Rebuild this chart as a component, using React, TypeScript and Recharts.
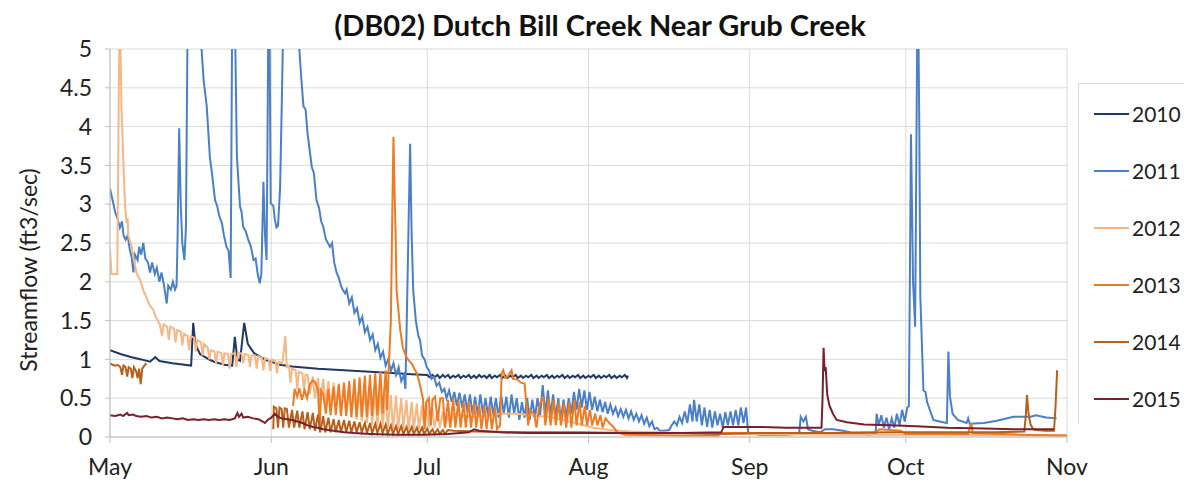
import React from 'react';
import { LineChart, Line, XAxis, YAxis, CartesianGrid } from 'recharts';

// x = days since May 1
const monthTicks = [0, 31, 61, 92, 123, 153, 184];
const monthLabels = ['May', 'Jun', 'Jul', 'Aug', 'Sep', 'Oct', 'Nov'];
const yTicks = [0, 0.5, 1, 1.5, 2, 2.5, 3, 3.5, 4, 4.5, 5];
const years = ['2010', '2011', '2012', '2013', '2014', '2015'];
const colors = ['#1f3864', '#4a7fc9', '#f6b784', '#ee7a22', '#b85f1a', '#7a1f2c'];

type P = [number, number | null];

const s2010: P[] = [
  [0, 1.12], [2, 1.07], [4, 1.03], [6, 1.0], [7.7, 0.97], [8.7, 1.03], [9.5, 0.98], [12, 0.95], [15.6, 0.92],
  [16, 1.47], [16.4, 1.2], [17.3, 1.07], [19, 1.0], [20, 0.97], [22, 0.93], [23.5, 0.92], [24, 1.29], [24.5, 1.0],
  [25, 0.98], [25.8, 1.47], [26.5, 1.2], [27.7, 1.08], [30, 0.99], [32.7, 0.93], [35, 0.91], [40, 0.88], [45, 0.86],
  [50, 0.84], [55, 0.82], [58, 0.81],
  [61, 0.8], [61.4, 0.77], [62, 0.8], [62.4, 0.77], [63, 0.8], [63.4, 0.76], [64, 0.8], [64.4, 0.77], [65, 0.8],
  [65.4, 0.76], [66, 0.79], [66.4, 0.77], [67, 0.8], [67.4, 0.76], [68, 0.79], [68.4, 0.77], [69, 0.8], [69.4, 0.76],
  [70, 0.79], [70.4, 0.76], [71, 0.8], [71.4, 0.77], [72, 0.79], [72.4, 0.76], [73, 0.8], [73.4, 0.76], [74, 0.79],
  [74.4, 0.77], [75, 0.8], [75.4, 0.76], [76, 0.79], [76.4, 0.76], [77, 0.79], [77.4, 0.77], [78, 0.8], [78.4, 0.76],
  [79, 0.79], [79.4, 0.76], [80, 0.79], [80.4, 0.77], [81, 0.8], [81.4, 0.76], [82, 0.79], [82.4, 0.76], [83, 0.79],
  [83.4, 0.77], [84, 0.8], [84.4, 0.76], [85, 0.79], [85.4, 0.76], [86, 0.79], [86.4, 0.77], [87, 0.8], [87.4, 0.76],
  [88, 0.79], [88.4, 0.76], [89, 0.79], [89.4, 0.77], [90, 0.8], [90.4, 0.76], [91, 0.79], [91.4, 0.76], [92, 0.79],
  [92.4, 0.77], [93, 0.8], [93.4, 0.76], [94, 0.79], [94.4, 0.76], [95, 0.79], [95.4, 0.77], [96, 0.8], [96.4, 0.76],
  [97, 0.79], [97.4, 0.76], [98, 0.79], [98.4, 0.77], [99, 0.8], [99.4, 0.76], [99.6, 0.79],
];

const s2011: P[] = [
  [0, 3.2], [0.5, 3.05], [1, 2.9], [1.5, 2.8], [1.9, 2.7], [2.3, 2.78], [2.6, 2.6], [3, 2.54], [3.4, 2.6], [3.8, 2.42],
  [4.2, 2.3], [4.5, 2.12], [4.8, 2.35], [5.3, 2.28], [5.6, 2.45], [6.0, 2.35], [6.4, 2.5], [6.8, 2.3], [7.3, 2.25],
  [7.7, 2.12], [8.1, 2.25], [8.6, 2.1], [9.0, 2.18], [9.5, 2.0], [9.9, 2.12], [10.4, 1.95], [10.9, 1.72], [11.2, 1.95],
  [11.7, 1.9], [12.1, 2.0], [12.5, 1.9], [12.8, 1.95], [13.0, 2.6], [13.3, 3.98], [13.6, 3.0], [13.9, 2.5], [14.3, 2.28],
  [14.6, 2.7], [14.9, 5.2], [15.5, 7], [16.5, 7], [17.3, 6], [17.6, 5.0], [18.0, 4.6], [18.6, 4.26], [19.2, 3.61],
  [19.6, 3.4], [20.2, 3.05], [20.6, 2.98], [21.0, 2.85], [21.5, 2.76], [21.9, 2.6], [22.4, 2.45], [22.8, 2.4],
  [23.2, 2.05], [23.5, 5.5], [23.8, 6], [24.1, 5], [24.4, 3.61], [25, 2.97], [25.3, 2.9], [25.6, 2.71], [26.1, 2.65],
  [26.6, 2.54], [27.1, 2.45], [27.6, 2.28], [28.0, 2.3], [28.4, 2.1], [28.8, 1.98], [29.1, 2.1], [29.5, 3.29],
  [29.8, 2.6], [30.1, 2.28], [30.3, 4], [30.5, 6], [30.7, 5], [30.9, 3.01], [31.4, 2.98], [31.7, 2.8], [32.0, 2.7],
  [32.3, 2.72], [32.7, 3.2], [33.0, 4.2], [33.3, 5.3], [34, 7.5], [35, 7], [35.8, 6], [36.4, 5.0], [36.8, 4.6],
  [37.2, 4.26], [37.6, 4.22], [38.0, 3.9], [38.8, 3.48], [39.2, 3.4], [39.7, 3.05], [40.2, 2.95], [40.6, 2.78],
  [41.0, 2.71], [41.5, 2.55], [42.3, 2.45], [42.7, 2.5], [43.1, 2.25], [43.6, 2.11], [44.0, 2.05], [44.4, 1.95],
  [44.8, 1.89], [45.2, 1.85], [45.5, 1.9], [46, 1.72], [46.5, 1.8], [47, 1.6], [47.5, 1.66], [48, 1.47], [48.5, 1.55],
  [49, 1.35], [49.5, 1.42], [50, 1.25], [50.5, 1.32], [51, 1.12], [51.5, 1.2], [52, 1.02], [52.5, 1.1], [53, 0.92],
  [53.5, 1.0], [54, 0.85], [54.5, 0.95], [55, 0.8], [55.5, 0.9], [56, 0.72], [56.5, 0.8], [56.8, 0.62], [57.2, 2.0],
  [57.7, 3.78], [58.0, 2.6], [58.3, 1.89], [58.8, 1.5], [59.3, 1.3], [59.6, 1.25], [60.0, 1.05], [60.5, 1.0],
  [60.9, 0.9], [61.4, 0.85], [61.8, 0.75], [62.3, 0.78], [62.8, 0.66], [63.3, 0.7], [63.8, 0.58], [64.3, 0.62],
  [64.7, 0.5], [65.2, 0.6], [65.7, 0.45], [66.2, 0.58], [66.7, 0.4], [67.2, 0.57], [67.7, 0.38], [68.2, 0.55],
  [68.7, 0.33], [69.2, 0.55], [69.7, 0.3], [70.2, 0.52], [70.7, 0.28], [71.2, 0.55], [71.7, 0.3], [72.2, 0.5],
  [72.7, 0.27], [73.2, 0.52], [73.7, 0.28], [74.2, 0.5], [74.7, 0.25], [75.2, 0.55], [75.7, 0.3], [76.2, 0.52],
  [76.7, 0.25], [77.2, 0.55], [77.7, 0.3], [78.2, 0.5], [78.7, 0.22], [79.2, 0.45], [79.7, 0.25], [80.2, 0.5],
  [80.7, 0.22], [81.2, 0.48], [81.7, 0.25], [82.2, 0.5], [82.7, 0.28], [83.2, 0.67], [83.7, 0.3], [84.2, 0.6],
  [84.7, 0.28], [85.2, 0.55], [85.7, 0.25], [86.2, 0.5], [86.7, 0.22], [87.2, 0.48], [87.7, 0.25], [88.2, 0.5],
  [88.7, 0.3], [89.2, 0.58], [89.7, 0.35], [90.2, 0.62], [90.7, 0.38], [91.2, 0.6], [91.7, 0.35], [92.2, 0.58],
  [92.7, 0.35], [93.2, 0.52], [93.7, 0.33], [94.2, 0.48], [94.7, 0.32], [95.2, 0.45], [95.7, 0.3], [96.2, 0.42],
  [96.7, 0.3], [97.2, 0.38], [97.7, 0.27], [98.2, 0.36], [98.7, 0.26], [99.2, 0.35], [99.7, 0.24], [100.2, 0.33],
  [100.7, 0.22], [101.2, 0.3], [101.7, 0.2], [102.2, 0.28], [102.7, 0.17], [103.2, 0.25], [103.7, 0.14], [104.2, 0.2],
  [104.7, 0.1], [105.2, 0.12], [105.7, 0.08], [106.5, 0.08], [107.5, 0.09], [108, 0.15], [108.5, 0.2], [109, 0.15],
  [109.5, 0.26], [110, 0.18], [110.5, 0.33], [111, 0.18], [111.5, 0.42], [112, 0.2], [112.3, 0.48], [112.8, 0.2],
  [113.3, 0.42], [113.8, 0.15], [114.3, 0.38], [114.8, 0.13], [115.3, 0.35], [115.8, 0.12], [116.3, 0.33],
  [116.8, 0.15], [117.3, 0.3], [117.8, 0.12], [118.3, 0.32], [118.8, 0.15], [119.3, 0.33], [119.8, 0.15],
  [120.3, 0.35], [120.8, 0.15], [121.3, 0.38], [121.8, 0.18], [122.3, 0.38], [122.7, 0.05], [125, 0.03], [130, 0.03],
  [132.5, 0.04], [132.8, 0.26], [133.3, 0.2], [133.8, 0.26], [134.2, 0.1], [135, 0.08], [136.5, 0.06], [137.5, 0.1],
  [139, 0.1], [141, 0.08], [143, 0.05], [146, 0.03], [147.2, 0.05], [147.4, 0.3], [147.8, 0.15], [148.3, 0.28],
  [148.8, 0.12], [149.3, 0.25], [149.8, 0.1], [150.3, 0.24], [150.8, 0.12], [151.3, 0.3], [151.8, 0.15], [152.3, 0.35],
  [152.8, 0.2], [153.3, 0.38], [153.6, 0.4], [154, 3.9], [154.4, 2.0], [154.8, 1.42], [155.2, 5.2], [155.4, 5.5],
  [155.6, 4], [155.8, 1.81], [156.4, 0.6], [156.8, 0.58], [157.1, 0.45], [158.3, 0.22], [159.5, 0.2], [160.9, 0.18],
  [161.2, 1.1], [161.5, 0.52], [162, 0.3], [163, 0.22], [164.7, 0.18], [165, 0.24], [165.3, 0.17], [168, 0.18],
  [170.5, 0.21], [173.7, 0.26], [177, 0.26], [178, 0.28], [180, 0.25], [182, 0.24],
];

const s2012: P[] = [
  [0, 2.42], [0.3, 2.1], [1.4, 2.1], [1.7, 4.5], [1.9, 5.6], [2.2, 4.26], [2.6, 3.5], [2.9, 2.97], [3.2, 2.76],
  [3.4, 2.82], [3.5, 2.6], [4.2, 2.45], [4.5, 2.32], [5.1, 2.11], [5.8, 2.02], [6.4, 1.89], [7, 1.8], [7.6, 1.7],
  [8.3, 1.64], [8.8, 1.55], [9.6, 1.45], [10, 1.3], [10.3, 1.45], [11, 1.42], [11.3, 1.25], [11.6, 1.42], [12.3, 1.4],
  [12.6, 1.22], [12.9, 1.38], [13.6, 1.36], [13.9, 1.18], [14.2, 1.33], [14.9, 1.3], [15.2, 1.12], [15.5, 1.3],
  [16.2, 1.28], [16.5, 1.1], [16.8, 1.25], [17.5, 1.22], [17.8, 1.05], [18.1, 1.2], [18.8, 1.15], [19.1, 1.0],
  [19.4, 1.12], [20.1, 1.1], [20.4, 0.95], [20.7, 1.1], [21.4, 1.08], [21.7, 0.92], [22, 1.08], [22.7, 1.07],
  [23, 0.88], [23.3, 1.07], [24, 1.08], [24.3, 0.9], [24.6, 1.08], [25.3, 1.08], [25.6, 0.95], [25.9, 1.07],
  [26.6, 1.06], [26.9, 0.9], [27.2, 1.05], [27.9, 1.05], [28.2, 0.88], [28.5, 1.04], [29.2, 1.02], [29.5, 0.86],
  [29.8, 1.02], [30.5, 1.0], [30.8, 0.85], [31.1, 1.0], [31.8, 0.98], [32.1, 0.82], [32.4, 0.97], [33.1, 0.95],
  [33.4, 1.1], [33.7, 1.3], [34, 0.9], [34.4, 0.92], [34.7, 0.7], [35, 0.88], [35.7, 0.86], [36, 0.62], [36.3, 0.84],
  [37, 0.82], [37.3, 0.58], [37.6, 0.8],
  [38, 0.8], [38.4, 0.55], [39, 0.78], [39.4, 0.5], [40, 0.76], [40.4, 0.45], [41, 0.75], [41.4, 0.4], [42, 0.72],
  [42.4, 0.38], [43, 0.7], [43.4, 0.35], [44, 0.69], [44.4, 0.3], [45, 0.67], [45.4, 0.28], [46, 0.66], [46.4, 0.25],
  [47, 0.64], [47.4, 0.22], [48, 0.62], [48.4, 0.2], [49, 0.61], [49.4, 0.18], [50, 0.6], [50.4, 0.16], [51, 0.58],
  [51.4, 0.14], [52, 0.57], [52.4, 0.12], [53, 0.55], [53.4, 0.12], [54, 0.54], [54.4, 0.1], [55, 0.53], [55.4, 0.1],
  [56, 0.5], [56.4, 0.1], [57, 0.48], [57.4, 0.1], [58, 0.45], [58.4, 0.1], [59, 0.43], [59.4, 0.1], [60, 0.41],
  [60.4, 0.1], [61, 0.39], [61.4, 0.12], [62, 0.37], [62.4, 0.12], [63, 0.35], [63.4, 0.12], [64, 0.33], [64.4, 0.12],
  [65, 0.3], [65.4, 0.14], [66, 0.3], [68, 0.27], [70, 0.26], [72, 0.27], [75, 0.3], [78, 0.3], [81, 0.28], [84, 0.26],
  [87, 0.22], [90, 0.17], [93, 0.12], [96, 0.09], [100, 0.07], [105, 0.06], [110, 0.05], [120, 0.04], [140, 0.03],
  [160, 0.03], [184, 0.02],
];

const s2013: P[] = [
  [35.2, 0.4], [35.5, 0.62], [36, 0.52], [36.4, 0.63], [36.9, 0.48], [37.4, 0.6], [37.9, 0.5], [38.4, 0.68], [39, 0.73],
  [39.5, 0.7], [40, 0.6], [40.3, 0.09], [40.6, 0.6], [41, 0.55], [41.5, 0.3], [42, 0.62], [42.4, 0.28], [43, 0.65],
  [43.4, 0.28], [44, 0.68], [44.4, 0.27], [45, 0.7], [45.4, 0.27], [46, 0.72], [46.4, 0.26], [47, 0.75], [47.4, 0.26],
  [48, 0.77], [48.4, 0.26], [49, 0.79], [49.4, 0.26], [50, 0.8], [50.4, 0.27], [51, 0.82], [51.4, 0.28], [52, 0.84],
  [52.4, 0.3], [53, 0.86], [53.3, 0.35], [53.6, 0.9], [54, 1.5], [54.3, 3.0], [54.5, 3.87], [54.7, 3.2], [54.9, 2.67],
  [55.1, 1.89], [55.8, 1.38], [56.3, 1.15], [57, 1.03], [57.5, 0.98], [58, 0.95], [58.5, 0.88], [59, 0.82], [59.5, 0.7],
  [60.2, 0.48], [60.5, 0.1], [60.8, 0.45], [61.3, 0.5], [61.7, 0.15], [62, 0.48], [62.5, 0.52], [63, 0.2], [63.5, 0.5],
  [64, 0.5], [64.4, 0.12], [65, 0.48], [65.4, 0.12], [66, 0.5], [66.4, 0.12], [67, 0.47], [67.4, 0.12], [68, 0.45],
  [68.4, 0.12], [69, 0.46], [69.4, 0.12], [70, 0.44], [70.4, 0.12], [71, 0.42], [71.4, 0.1], [72, 0.4], [72.4, 0.1],
  [73, 0.4], [73.4, 0.1], [74, 0.38], [74.4, 0.1], [75, 0.15], [75.3, 0.82], [75.6, 0.86], [76, 0.76], [76.5, 0.78],
  [77.2, 0.86], [77.5, 0.75], [78.3, 0.74], [79, 0.7], [79.7, 0.69], [80.1, 0.4], [80.4, 0.15], [80.8, 0.35],
  [81.5, 0.3], [82, 0.12], [82.5, 0.4], [83.3, 0.52], [83.7, 0.15], [84.3, 0.5], [84.7, 0.15], [85.3, 0.48],
  [85.7, 0.15], [86.3, 0.45], [86.7, 0.15], [87.3, 0.43], [87.7, 0.12], [88.3, 0.45], [88.7, 0.12], [89.3, 0.48],
  [89.7, 0.15], [90.3, 0.45], [90.7, 0.15], [91.3, 0.4], [91.7, 0.15], [92.3, 0.35], [92.7, 0.15], [93.3, 0.3],
  [93.7, 0.15], [94.3, 0.28], [94.7, 0.12], [95.3, 0.24], [96, 0.18], [96.8, 0.13], [97.5, 0.06], [99, 0.03],
  [110, 0.02], [117, 0.02], [117.3, 0.05], [130, 0.05], [139, 0.05], [147, 0.06], [148, 0.1], [152, 0.08],
  [153, 0.04], [165, 0.04], [165.6, 0.18], [165.9, 0.05], [175, 0.03], [184, 0.02],
];

const s2014: P[] = [
  [0, 0.95], [0.5, 0.93], [1, 0.92], [1.5, 0.93], [2, 0.9], [2.3, 0.8], [2.6, 0.92], [3, 0.9], [3.3, 0.78],
  [3.6, 0.9], [4, 0.88], [4.3, 0.76], [4.6, 0.9], [5, 0.85], [5.3, 0.76], [5.6, 0.88], [5.9, 0.68], [6.2, 0.88],
  [6.6, 0.92], [7, 0.95], [7.1, null],
  [31.4, 0.1], [31.5, 0.39], [32, 0.37], [32.3, 0.12], [32.6, 0.38], [33, 0.36], [33.3, 0.12], [33.6, 0.37],
  [34, 0.36], [34.4, 0.12], [35, 0.35], [35.4, 0.12], [36, 0.34], [36.4, 0.12], [37, 0.33], [37.4, 0.1], [38, 0.32],
  [38.4, 0.1], [39, 0.31], [39.4, 0.08], [40, 0.29], [40.4, 0.06], [41, 0.27], [41.4, 0.06], [42, 0.25], [42.4, 0.06],
  [43, 0.23], [43.4, 0.06], [44, 0.22], [44.4, 0.06], [45, 0.22], [45.4, 0.06], [46, 0.21], [46.4, 0.06], [47, 0.2],
  [47.4, 0.06], [48, 0.19], [48.4, 0.06], [49, 0.18], [49.4, 0.05], [50, 0.18], [50.4, 0.05], [51, 0.17], [51.4, 0.05],
  [52, 0.17], [52.4, 0.05], [53, 0.16], [53.4, 0.04], [54, 0.15], [54.4, 0.04], [55, 0.14], [55.4, 0.04], [56, 0.14],
  [56.4, 0.04], [57, 0.13], [57.4, 0.04], [58, 0.13], [58.4, 0.04], [59, 0.12], [59.4, 0.04], [60, 0.12], [60.4, 0.04],
  [61, 0.11], [61.4, 0.04], [62, 0.1], [62.4, 0.04], [63, 0.1], [63.4, 0.04], [64, 0.09], [64.4, 0.04], [65, 0.09],
  [66, 0.08], [70, 0.07], [80, 0.06], [90, 0.06], [100, 0.05], [110, 0.05], [117, 0.04], [125, 0.05], [139, 0.05],
  [150, 0.06], [160, 0.06], [170, 0.06], [175.8, 0.07], [176.1, 0.3], [176.3, 0.54], [176.6, 0.3], [177, 0.16],
  [177.5, 0.1], [178, 0.09], [180, 0.08], [181.5, 0.08], [181.8, 0.4], [182.1, 0.86],
];

const s2015: P[] = [
  [0, 0.28], [1, 0.27], [2, 0.29], [2.5, 0.27], [3.3, 0.31], [3.6, 0.28], [4.5, 0.29], [5, 0.27], [6, 0.26], [7, 0.27],
  [8, 0.25], [9, 0.26], [10, 0.24], [11, 0.25], [12, 0.24], [13, 0.23], [14, 0.24], [15, 0.22], [16, 0.23], [17, 0.22],
  [18, 0.23], [19, 0.22], [20, 0.23], [21, 0.22], [22, 0.23], [23, 0.22], [24, 0.24], [24.5, 0.31], [24.8, 0.26],
  [25.3, 0.3], [25.6, 0.25], [26.5, 0.26], [27.5, 0.24], [28.5, 0.23], [29.3, 0.2], [29.8, 0.18], [30.3, 0.22],
  [31, 0.25], [31.7, 0.3], [32.3, 0.26], [33, 0.24], [34, 0.23], [35, 0.22], [36, 0.2], [37, 0.18], [38, 0.15],
  [39, 0.13], [40, 0.12], [41, 0.1], [42, 0.09], [43, 0.08], [44, 0.07], [45, 0.06], [47, 0.05], [50, 0.04],
  [55, 0.03], [60, 0.03], [65, 0.04], [69, 0.06], [70, 0.1], [71, 0.08], [75, 0.06], [80, 0.05], [90, 0.05],
  [100, 0.05], [110, 0.05], [117.5, 0.06], [118, 0.13], [125, 0.13], [130, 0.12], [136.8, 0.12], [137, 0.5],
  [137.2, 1.15], [137.4, 0.85], [137.6, 0.9], [137.9, 0.55], [138.3, 0.41], [139, 0.3], [139.7, 0.22], [141.7, 0.19],
  [145, 0.16], [150, 0.15], [155, 0.14], [161, 0.12], [168, 0.11], [173.7, 0.1], [181.5, 0.1],
];

const seriesData = [s2010, s2011, s2012, s2013, s2014, s2015];
const series = years.map((name, i) => ({
  name,
  color: colors[i],
  data: seriesData[i].map(([d, v]) => ({ d, v })),
}));

const FONT = 'Lato, "Open Sans", sans-serif';

export default function App() {
  return (
    <div style={{ position: 'absolute', left: 0, top: 0, width: 1184, height: 481, background: '#fff', fontFamily: FONT }}>
      <div
        style={{
          position: 'absolute', left: 0, width: 1200, top: 7, textAlign: 'center',
          fontSize: 29, fontWeight: 700, color: '#111', whiteSpace: 'nowrap',
        }}
      >
        (DB02) Dutch Bill Creek Near Grub Creek
      </div>
      <div
        style={{
          position: 'absolute', left: 28, top: 270, transform: 'translate(-50%, -50%) rotate(-90deg)',
          fontSize: 23, color: '#222', whiteSpace: 'nowrap',
        }}
      >
        Streamflow (ft3/sec)
      </div>
      <LineChart width={1184} height={481} margin={{ top: 49, right: 117, bottom: 0, left: 0 }}>
        <CartesianGrid stroke="#dadada" />
        <XAxis
          type="number"
          dataKey="d"
          domain={[0, 184]}
          ticks={monthTicks}
          tickFormatter={(t: number) => monthLabels[monthTicks.indexOf(t)] ?? ''}
          height={44}
          allowDataOverflow
          stroke="#bfbfbf"
          tickSize={6}
          tickMargin={16}
          tick={{ fontSize: 23, fill: '#222', fontFamily: FONT }}
        />
        <YAxis
          type="number"
          domain={[0, 5]}
          ticks={yTicks}
          width={110}
          allowDataOverflow
          stroke="#bfbfbf"
          tickSize={5}
          tickMargin={13}
          tick={{ fontSize: 23, fill: '#222', fontFamily: FONT }}
        />
        {series.map((s) => (
          <Line
            key={s.name}
            data={s.data}
            dataKey="v"
            name={s.name}
            type="linear"
            stroke={s.color}
            strokeWidth={2}
            dot={false}
            activeDot={false}
            isAnimationActive={false}
            connectNulls={false}
          />
        ))}
      </LineChart>
      <div
        style={{
          position: 'absolute', left: 1078, top: 83, width: 130, height: 340,
          borderLeft: '1px solid #d9d9d9', borderTop: '1px solid #d9d9d9',
        }}
      >
        {series.map((s, i) => (
          <div
            key={s.name}
            style={{ position: 'absolute', left: 15, top: 17 + i * 57, height: 26, display: 'flex', alignItems: 'center' }}
          >
            <div style={{ width: 35, height: 2, background: s.color, marginRight: 3 }} />
            <span style={{ fontSize: 21, color: '#222', lineHeight: '26px' }}>{s.name}</span>
          </div>
        ))}
      </div>
    </div>
  );
}
